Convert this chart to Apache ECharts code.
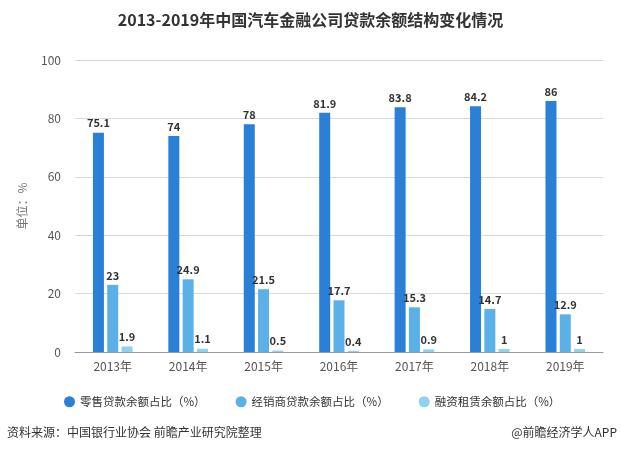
<!DOCTYPE html>
<html><head><meta charset="utf-8">
<script src="https://cdn.jsdelivr.net/npm/echarts@6/dist/echarts.min.js"></script>
<style>html,body{margin:0;padding:0;background:#fff}#c{width:621px;height:454px}</style>
</head><body><div id="c"></div>
<script>
var categories = ['2013年','2014年','2015年','2016年','2017年','2018年','2019年'];
var retail = [75.1, 74, 78, 81.9, 83.8, 84.2, 86];
var dealer = [23, 24.9, 21.5, 17.7, 15.3, 14.7, 12.9];
var leasing = [1.9, 1.1, 0.5, 0.4, 0.9, 1, 1];
var seriesNames = ['零售贷款余额占比（%）','经销商贷款余额占比（%）','融资租赁余额占比（%）'];
var colors = ['#2a7fd6','#5cb0e8','#8dd3ee'];
var font = '"Microsoft YaHei","Noto Sans CJK SC",sans-serif';
var chart = echarts.init(document.getElementById('c'));
function mk(name, data, color){
  return {name:name,type:'bar',data:data,barWidth:11,barGap:'30%',
    itemStyle:{color:color},
    label:{show:true,position:'top',color:'#333',fontWeight:'bold',fontSize:11,fontFamily:font,distance:4}};
}
chart.setOption({
  animation:false,
  title:{text:'2013-2019年中国汽车金融公司贷款余额结构变化情况',left:'center',top:7,
    textStyle:{fontSize:16,fontWeight:'bold',color:'#333',fontFamily:font}},
  grid:{left:75,right:18,top:60,bottom:102},
  legend:{data:seriesNames,top:391,left:59,itemGap:30,icon:'circle',itemWidth:11,itemHeight:11,
    textStyle:{fontSize:11.5,color:'#333',fontFamily:font}},
  xAxis:{type:'category',data:categories,
    axisLine:{lineStyle:{color:'#999'}},axisTick:{alignWithLabel:true,lineStyle:{color:'#999'}},
    axisLabel:{color:'#555',fontSize:12,fontFamily:font,margin:8}},
  yAxis:{type:'value',min:0,max:100,interval:20,name:'单位：%',nameLocation:'middle',nameGap:47,
    nameTextStyle:{color:'#777',fontSize:12,fontFamily:font},
    axisLine:{show:false},axisTick:{show:false},
    axisLabel:{color:'#555',fontSize:12,fontFamily:font,margin:14},
    splitLine:{lineStyle:{color:'#d9d9d9'}}},
  graphic:[
    {type:'text',left:7,top:426,style:{text:'资料来源：中国银行业协会 前瞻产业研究院整理',fill:'#333',fontSize:12,fontFamily:font}},
    {type:'text',right:4,top:426,style:{text:'@前瞻经济学人APP',fill:'#333',fontSize:12,fontFamily:font}}
  ],
  series:[mk(seriesNames[0],retail,colors[0]),mk(seriesNames[1],dealer,colors[1]),mk(seriesNames[2],leasing,colors[2])]
});
</script></body></html>
